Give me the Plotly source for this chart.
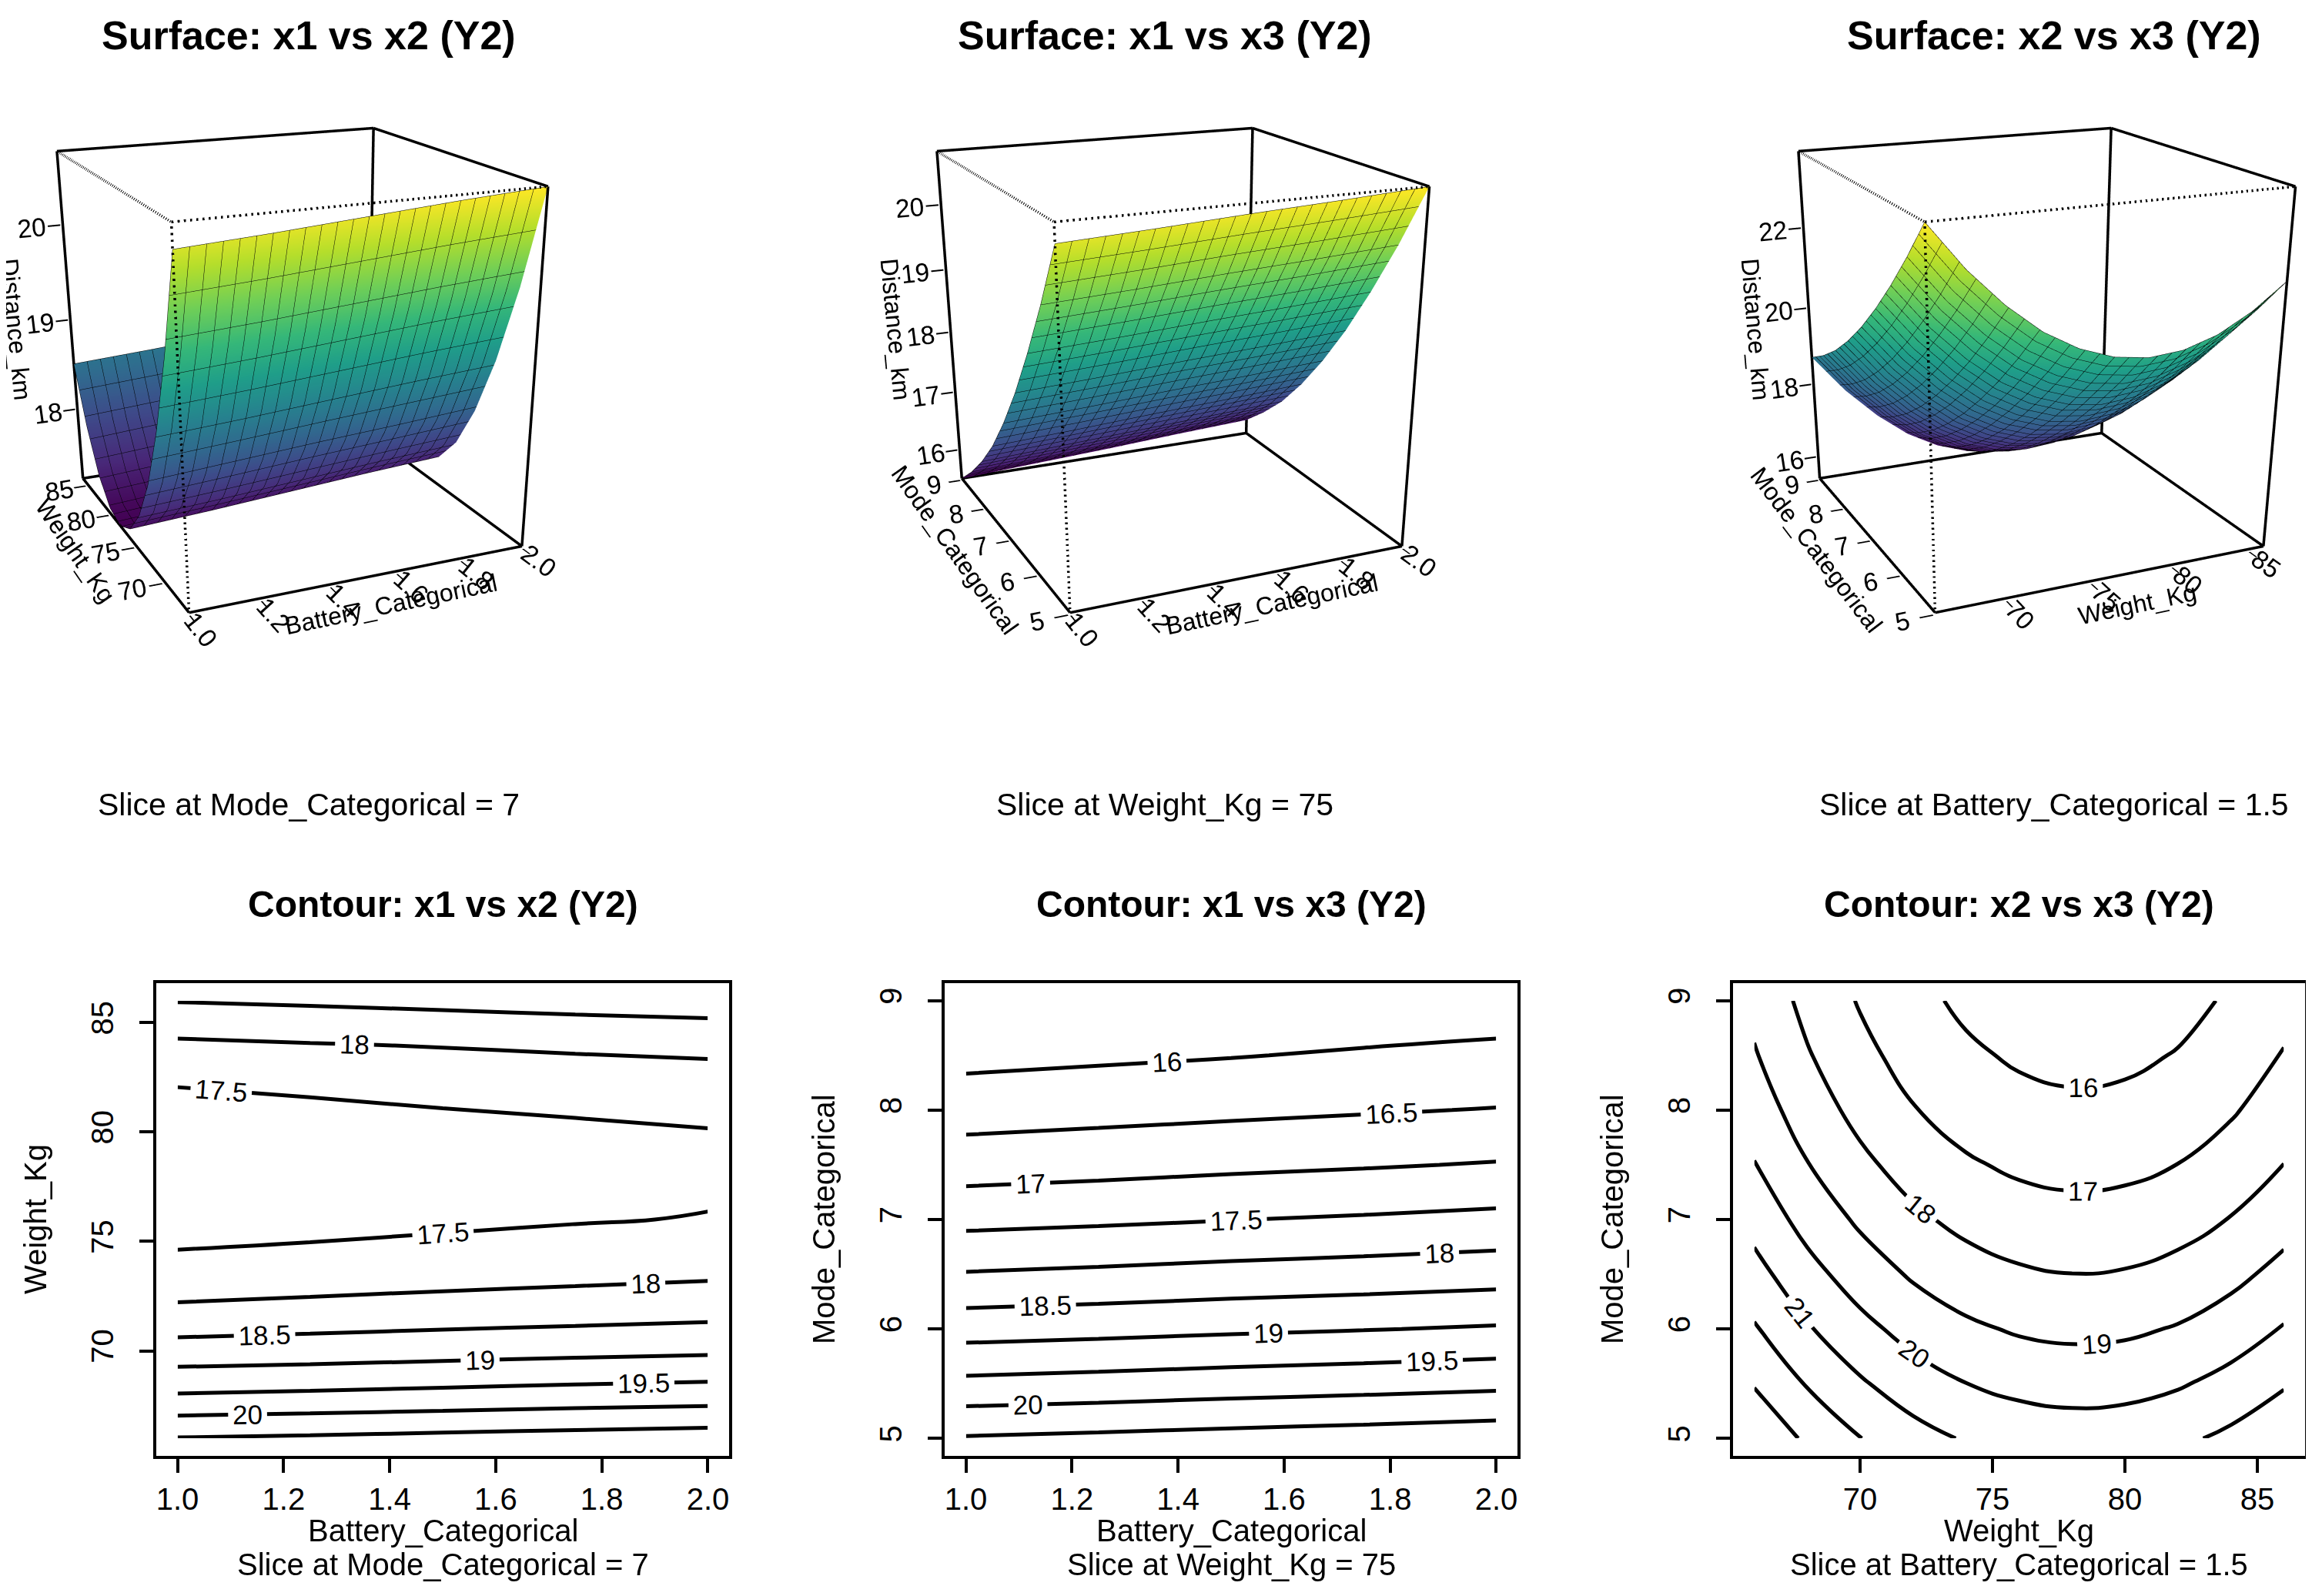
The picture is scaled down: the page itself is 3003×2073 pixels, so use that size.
import math
import plotly.graph_objects as go

# grid values (Y2 = Distance_km)
battery = [1.0, 1.25, 1.5, 1.75, 2.0]
weight = [66, 68, 70, 72, 74, 76, 78, 80, 82, 84, 86]
mode = [5.0, 5.5, 6.0, 6.5, 7.0, 7.5, 8.0, 8.5, 9.0]

# rows = weight, cols = battery  (slice at Mode_Categorical = 7)
dist_bat_wt = [
    [20.52, 20.57, 20.63, 20.69, 20.74],
    [19.52, 19.57, 19.63, 19.69, 19.74],
    [18.70, 18.75, 18.81, 18.87, 18.92],
    [18.05, 18.11, 18.17, 18.22, 18.28],
    [17.59, 17.64, 17.70, 17.76, 17.81],
    [17.30, 17.35, 17.41, 17.47, 17.52],
    [17.19, 17.24, 17.30, 17.36, 17.41],
    [17.25, 17.31, 17.37, 17.42, 17.48],
    [17.49, 17.55, 17.61, 17.67, 17.72],
    [17.92, 17.98, 18.03, 18.09, 18.14],
    [18.52, 18.57, 18.63, 18.69, 18.74],
]

# rows = mode, cols = battery  (slice at Weight_Kg = 75)
dist_bat_mode = [
    [20.54, 20.60, 20.67, 20.73, 20.80],
    [19.62, 19.68, 19.75, 19.81, 19.88],
    [18.79, 18.85, 18.92, 18.98, 19.05],
    [18.03, 18.09, 18.16, 18.22, 18.29],
    [17.36, 17.42, 17.49, 17.55, 17.62],
    [16.77, 16.83, 16.90, 16.96, 17.03],
    [16.28, 16.34, 16.40, 16.46, 16.52],
    [15.86, 15.92, 15.98, 16.05, 16.11],
    [15.50, 15.56, 15.62, 15.69, 15.75],
]

# rows = mode, cols = weight  (slice at Battery_Categorical = 1.5)
dist_wt_mode = [
    [23.83, 22.83, 22.02, 21.37, 20.91, 20.62, 20.50, 20.56, 20.80, 21.22, 21.80],
    [22.93, 21.93, 21.12, 20.47, 20.01, 19.72, 19.60, 19.66, 19.90, 20.32, 20.90],
    [22.10, 21.10, 20.29, 19.64, 19.18, 18.89, 18.77, 18.83, 19.07, 19.49, 20.07],
    [21.34, 20.34, 19.53, 18.88, 18.42, 18.13, 18.01, 18.07, 18.31, 18.73, 19.31],
    [20.65, 19.65, 18.84, 18.19, 17.73, 17.44, 17.32, 17.38, 17.62, 18.04, 18.62],
    [20.04, 19.04, 18.23, 17.58, 17.12, 16.83, 16.71, 16.77, 17.01, 17.43, 18.01],
    [19.51, 18.51, 17.70, 17.05, 16.59, 16.30, 16.18, 16.24, 16.48, 16.90, 17.48],
    [19.08, 18.08, 17.27, 16.62, 16.16, 15.87, 15.75, 15.81, 16.05, 16.47, 17.05],
    [18.73, 17.73, 16.92, 16.27, 15.81, 15.52, 15.40, 15.46, 15.70, 16.12, 16.70],
]

battery_ticks = [1.0, 1.2, 1.4, 1.6, 1.8, 2.0]
weight_ticks = [70, 75, 80, 85]
mode_ticks = [5, 6, 7, 8, 9]
z_ticks = [[18, 19, 20], [16, 17, 18, 19, 20], [16, 18, 20, 22]]

titles_top = ["Surface: x1 vs x2 (Y2)", "Surface: x1 vs x3 (Y2)", "Surface: x2 vs x3 (Y2)"]
titles_bot = ["Contour: x1 vs x2 (Y2)", "Contour: x1 vs x3 (Y2)", "Contour: x2 vs x3 (Y2)"]
slices = ["Slice at Mode_Categorical = 7", "Slice at Weight_Kg = 75",
          "Slice at Battery_Categorical = 1.5"]
levels = [(17.5, 20.5, 0.5), (16, 20.5, 0.5), (16, 23, 1)]

W, H = 3003, 2073
FONT = "Liberation Sans"

panels = [
    dict(x=battery, y=weight, z=dist_bat_wt, xt=battery_ticks, yt=weight_ticks,
         xlab="Battery_Categorical", ylab="Weight_Kg"),
    dict(x=battery, y=mode, z=dist_bat_mode, xt=battery_ticks, yt=mode_ticks,
         xlab="Battery_Categorical", ylab="Mode_Categorical"),
    dict(x=weight, y=mode, z=dist_wt_mode, xt=weight_ticks, yt=mode_ticks,
         xlab="Weight_Kg", ylab="Mode_Categorical"),
]


def fmt(v, step):
    return f"{v:.1f}" if step < 1 else f"{v:g}"


def camera(theta, phi, dist, up_px, right_px, half_h_px):
    # eye on the (xmin, ymin) side, shifted so the box sits off-centre in the viewport
    t, p = math.radians(theta), math.radians(phi)
    d = (math.sin(t) * math.cos(p), math.cos(t) * math.cos(p), -math.sin(p))
    r = (math.cos(t), -math.sin(t), 0.0)
    u = (math.sin(t) * math.sin(p), math.cos(t) * math.sin(p), math.cos(p))
    k = dist * math.tan(math.pi / 8) / half_h_px
    v = [-(up_px * k * u[i] + right_px * k * r[i]) for i in range(3)]
    eye = [-dist * d[i] + v[i] for i in range(3)]
    return dict(eye=dict(x=eye[0], y=eye[1], z=eye[2]),
                center=dict(x=v[0], y=v[1], z=v[2]),
                up=dict(x=0, y=0, z=1))


def box_edges(x0, x1, y0, y1, z0, z1):
    solid = [
        ((x1, y0, z0), (x1, y1, z0)), ((x0, y1, z0), (x1, y1, z0)),
        ((x0, y0, z0), (x1, y0, z0)), ((x0, y0, z0), (x0, y1, z0)),
        ((x1, y0, z0), (x1, y0, z1)), ((x0, y1, z0), (x0, y1, z1)),
        ((x1, y1, z0), (x1, y1, z1)),
        ((x1, y0, z1), (x1, y1, z1)), ((x0, y1, z1), (x1, y1, z1)),
    ]
    dotted = [
        ((x0, y0, z1), (x1, y0, z1)), ((x0, y0, z1), (x0, y1, z1)),
        ((x0, y0, z1), (x0, y0, z0)),
    ]

    def flat(edges):
        xs, ys, zs = [], [], []
        for a, b in edges:
            xs += [a[0], b[0], None]
            ys += [a[1], b[1], None]
            zs += [a[2], b[2], None]
        return xs, ys, zs
    return flat(solid), flat(dotted)


fig = go.Figure()
annotations = []

scene_px = [(0, 802), (1129, 1931), (2201, 3003)]
box_centres = [368, 1511, 2630]
top_text_x = [393, 1505, 2660]
scene_h = 1534
box_mid_y = 445
cam_theta, cam_phi, cam_dist = 24.0, 27.0, 4.0

bot_px = [(195, 939), (1219, 1963), (2243, 2986)]
bot_top, bot_bottom = 1269, 1883

for i, pn in enumerate(panels):
    n = i + 1
    xs, ys, zs = pn["x"], pn["y"], pn["z"]
    zmin = min(min(r) for r in zs)
    zmax = max(max(r) for r in zs)
    sid = "scene" if n == 1 else f"scene{n}"

    # ---- surface (persp style)
    fig.add_trace(go.Surface(
        x=xs, y=ys, z=zs, scene=sid, colorscale="Viridis", cmin=zmin, cmax=zmax,
        showscale=False, hoverinfo="skip",
        lighting=dict(ambient=1.0, diffuse=0.0, specular=0.0, roughness=1.0, fresnel=0.0),
        contours=dict(
            x=dict(show=True, start=xs[0], end=xs[-1], size=(xs[-1] - xs[0]) / 24,
                   color="black", width=8, highlight=False),
            y=dict(show=True, start=ys[0], end=ys[-1], size=(ys[-1] - ys[0]) / 24,
                   color="black", width=8, highlight=False),
            z=dict(highlight=False),
        ),
    ))
    (sx, sy, sz), (dx, dy, dz) = box_edges(xs[0], xs[-1], ys[0], ys[-1], zmin, zmax)
    fig.add_trace(go.Scatter3d(x=sx, y=sy, z=sz, mode="lines", scene=sid,
                               line=dict(color="black", width=7), hoverinfo="skip",
                               showlegend=False))
    fig.add_trace(go.Scatter3d(x=dx, y=dy, z=dz, mode="lines", scene=sid,
                               line=dict(color="black", width=7, dash="dot"),
                               hoverinfo="skip", showlegend=False))

    xstep = pn["xt"][1] - pn["xt"][0]

    def s_axis(title, vals, step, lo_v, hi_v):
        pad = (hi_v - lo_v) * 0.006
        return dict(
            title=dict(text=title, font=dict(family=FONT, size=32, color="black")),
            range=[lo_v - pad, hi_v + pad], autorange=False, tickvals=vals,
            ticktext=[fmt(v, step) for v in vals],
            tickfont=dict(family=FONT, size=20, color="black"),
            showgrid=False, zeroline=False, showline=False, showbackground=False,
            showspikes=False, ticks="outside", ticklen=14, tickwidth=4, tickcolor="black",
        )

    half_h = scene_h / 2
    dom_c = (scene_px[i][0] + scene_px[i][1]) / 2
    fig.update_layout(**{sid: dict(
        domain=dict(x=[scene_px[i][0] / W, scene_px[i][1] / W], y=[1 - scene_h / H, 1]),
        aspectmode="cube",
        xaxis=s_axis(pn["xlab"], pn["xt"], xstep, xs[0], xs[-1]),
        yaxis=s_axis(pn["ylab"], pn["yt"], 1, ys[0], ys[-1]),
        zaxis=s_axis("Distance_km", z_ticks[i], 1, zmin, zmax),
        camera=camera(cam_theta, cam_phi, cam_dist, half_h - box_mid_y,
                      box_centres[i] - dom_c, half_h),
        bgcolor="rgba(0,0,0,0)",
    )})

    # ---- contour
    lo, hi, st = levels[i]
    xa = "x" if n == 1 else f"x{n}"
    ya = "y" if n == 1 else f"y{n}"
    fig.add_trace(go.Contour(
        x=xs, y=ys, z=zs, xaxis=xa, yaxis=ya, autocontour=False,
        contours=dict(start=lo, end=hi, size=st, coloring="lines", showlabels=True,
                      labelfont=dict(family=FONT, size=35, color="black")),
        colorscale=[[0, "black"], [1, "black"]], showscale=False,
        line=dict(width=5, smoothing=1.3), hoverinfo="skip",
    ))
    xpad = (xs[-1] - xs[0]) * 0.04
    ypad = (ys[-1] - ys[0]) * 0.04
    common = dict(showline=True, mirror=True, linecolor="black", linewidth=4,
                  ticks="outside", ticklen=18, tickwidth=4, tickcolor="black",
                  showgrid=False, zeroline=False,
                  tickfont=dict(family=FONT, size=40, color="black"))
    fig.update_layout(**{
        ("xaxis" if n == 1 else f"xaxis{n}"): dict(
            domain=[bot_px[i][0] / W, bot_px[i][1] / W],
            range=[xs[0] - xpad, xs[-1] + xpad], anchor=ya,
            tickvals=pn["xt"], ticktext=[fmt(v, xstep) for v in pn["xt"]],
            ticklabelstandoff=0, **common),
        ("yaxis" if n == 1 else f"yaxis{n}"): dict(
            domain=[1 - bot_bottom / H, 1 - bot_top / H],
            range=[ys[0] - ypad, ys[-1] + ypad], anchor=xa,
            tickvals=pn["yt"], ticktext=[fmt(v, 1) for v in pn["yt"]],
            tickangle=-90, ticklabelstandoff=18, **common),
    })

    # ---- texts
    cx_top = top_text_x[i] / W
    cx_bot = (bot_px[i][0] + bot_px[i][1]) / 2 / W
    annotations += [
        dict(text=f"<b>{titles_top[i]}</b>", x=cx_top, y=1 - 38 / H,
             font=dict(family=FONT, size=52, color="black")),
        dict(text=slices[i], x=cx_top, y=1 - 1037 / H,
             font=dict(family=FONT, size=41, color="black")),
        dict(text=f"<b>{titles_bot[i]}</b>", x=cx_bot, y=1 - 1166 / H,
             font=dict(family=FONT, size=48, color="black")),
        dict(text=pn["xlab"], x=cx_bot, y=1 - 1980 / H,
             font=dict(family=FONT, size=40, color="black")),
        dict(text=slices[i], x=cx_bot, y=1 - 2024 / H,
             font=dict(family=FONT, size=40, color="black")),
        dict(text=pn["ylab"], x=(bot_px[i][0] - 157) / W,
             y=1 - (bot_top + bot_bottom) / 2 / H, textangle=-90,
             font=dict(family=FONT, size=40, color="black")),
    ]

for a in annotations:
    a.update(xref="paper", yref="paper", showarrow=False, xanchor="center", yanchor="middle")

fig.update_layout(
    width=W, height=H, margin=dict(l=0, r=0, t=0, b=0),
    paper_bgcolor="white", plot_bgcolor="white", showlegend=False,
    annotations=annotations, font=dict(family=FONT, color="black"),
)

fig.write_html("out.html")
